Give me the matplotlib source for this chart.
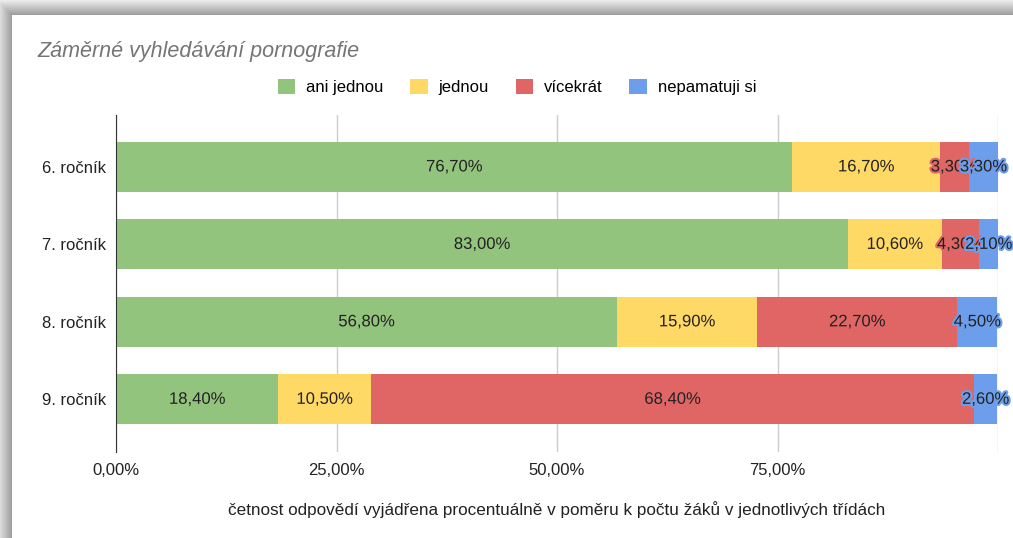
import numpy as np
import matplotlib
matplotlib.use('Agg')
import matplotlib.pyplot as plt
import matplotlib.patheffects as pe
from matplotlib.patches import Patch

plt.rcParams['font.family'] = ['Liberation Sans', 'DejaVu Sans']

# Data (percent of pupils in each grade)
grades = ['6. ročník', '7. ročník', '8. ročník', '9. ročník']
series = ['ani jednou', 'jednou', 'vícekrát', 'nepamatuji si']
aniJednou = [76.7, 83.0, 56.8, 18.4]
jednou = [16.7, 10.6, 15.9, 10.5]
vicekrat = [3.3, 4.3, 22.7, 68.4]
nepamatuji = [3.3, 2.1, 4.5, 2.6]
xTicks = [0, 25, 50, 75, 100]
xTickLabels = ['0,00%', '25,00%', '50,00%', '75,00%', '']

colors = ['#93c47d', '#ffd966', '#e06666', '#6d9eeb']
values = [aniJednou, jednou, vicekrat, nepamatuji]

# Font sizes.
labelSize = 12
titleSize = 15.5

W, H = 1013, 538
fig = plt.figure(figsize=(W/100, H/100), dpi=100)

# Background card with a drop shadow on top/left edges.
yy, xx = np.mgrid[0:H, 0:W]
d = np.maximum(np.clip(12 - xx, 0, None), np.clip(15 - yy, 0, None))
shade = np.where(d > 0, 0.62 + 0.3*(d - 1)/14.0, 1.0)
bg = fig.add_axes([0, 0, 1, 1], zorder=-1)
bg.imshow(shade, cmap='gray', vmin=0, vmax=1, aspect='auto',
    interpolation='nearest')
bg.axis('off')

ax = fig.add_axes([116/W, 1 - 452/H, (998 - 116)/W, (452 - 115)/H])
ax.patch.set_alpha(0)

yPos = np.arange(len(grades))
left = np.zeros(len(grades))
for name, vals, col in zip(series, values, colors):
    vals = np.array(vals)
    ax.barh(yPos, vals, left=left, height=0.645, color=col, label=name,
        zorder=2)
    for y, l, v in zip(yPos, left, vals):
        txt = ('%.2f' % v).replace('.', ',') + '%'
        ax.text(l + v/2, y, txt, ha='center', va='center', fontsize=labelSize,
            color='#222222', zorder=3,
            path_effects=[pe.withStroke(linewidth=3, foreground=col)])
    left += vals

ax.set_xlim(0, 100)
ax.set_ylim(3.68, -0.67)
ax.set_yticks(yPos)
ax.set_yticklabels(grades, fontsize=labelSize, color='#222222')
ax.set_xticks(xTicks)
ax.set_xticklabels(xTickLabels, fontsize=labelSize, color='#222222')
ax.tick_params(axis='both', length=0)
ax.tick_params(axis='x', pad=8)
ax.tick_params(axis='y', pad=7)
ax.grid(axis='x', color='#cccccc', linewidth=1, zorder=0)
for s in ['top', 'right', 'bottom']:
    ax.spines[s].set_visible(False)
ax.spines['left'].set_color('#333333')
ax.spines['left'].set_zorder(4)

fig.text(37/W, 1 - 51/H, 'Záměrné vyhledávání pornografie',
    fontsize=titleSize, style='italic', color='#757575', va='center',
    ha='left')
fig.text(557/W, 1 - 510/H,
    'četnost odpovědí vyjádřena procentuálně v poměru k počtu žáků v jednotlivých třídách',
    fontsize=12.3, color='#222222', ha='center', va='center')

handles = [Patch(facecolor=c, edgecolor='none') for c in colors]
fig.legend(handles, series, loc='center', bbox_to_anchor=(517/W, 1 - 87/H),
    ncol=4, frameon=False, fontsize=labelSize, handlelength=1.05,
    handleheight=1.05, handletextpad=0.65, columnspacing=1.6)

fig.savefig('out.png', dpi=100)
